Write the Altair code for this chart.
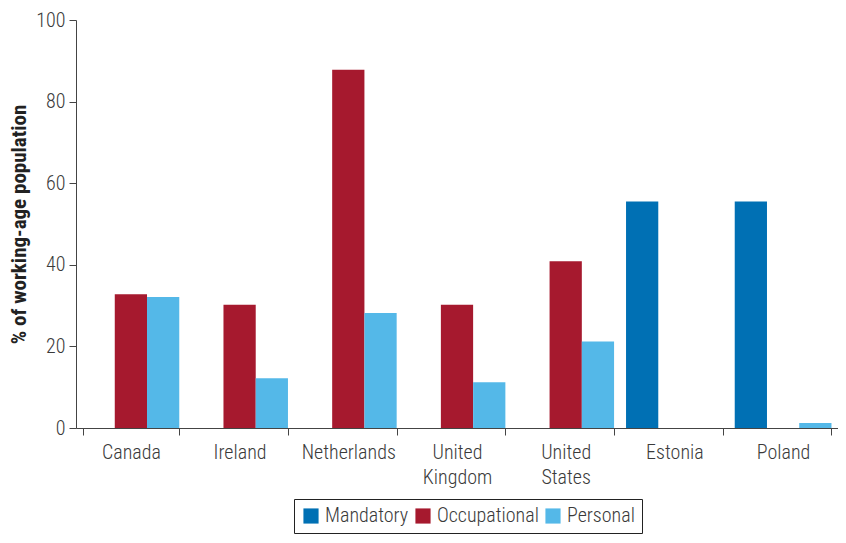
import altair as alt
import pandas as pd

countries = ["Canada", "Ireland", "Netherlands", "United Kingdom", "United States", "Estonia", "Poland"]
series = ["Mandatory", "Occupational", "Personal"]
mandatory = [None, None, None, None, None, 55.5, 55.5]
occupational = [32.8, 30.2, 87.8, 30.2, 40.9, None, None]
personal = [32.1, 12.2, 28.2, 11.2, 21.2, None, 1.2]
colors = ["#0070b4", "#a6192e", "#54b8e8"]

rows = []
for i, c in enumerate(countries):
    for s, vals in zip(series, [mandatory, occupational, personal]):
        if vals[i] is not None:
            rows.append({"country": c, "type": s, "value": vals[i]})
df = pd.DataFrame(rows)

FONT = "Roboto Condensed, Liberation Sans Narrow, DejaVu Sans Condensed, sans-serif"
TXT = "#3a3a3a"

chart = alt.Chart(df).mark_bar().encode(
    x=alt.X("country:N", sort=countries, title=None,
            scale=alt.Scale(paddingInner=0.11, paddingOuter=0.06),
            axis=alt.Axis(labelAngle=0, tickBand="extent", labelExpr="split(datum.label, ' ')",
                          labelFontSize=20, labelColor=TXT, labelFont=FONT, labelFontWeight=300,
                          domainColor="#444", tickColor="#444", tickSize=7, labelPadding=7,
                          labelLineHeight=25)),
    xOffset=alt.XOffset("type:N", sort=series, scale=alt.Scale(domain=series)),
    y=alt.Y("value:Q", title="% of working-age population",
            scale=alt.Scale(domain=[0, 100]),
            axis=alt.Axis(values=[0, 20, 40, 60, 80, 100], grid=False,
                          labelFontSize=20, labelColor=TXT, labelFont=FONT, labelFontWeight=300,
                          titleFont=FONT, titleFontSize=21, titleFontWeight="bold",
                          titleColor="#222", titlePadding=6,
                          domainColor="#444", tickColor="#444", tickSize=7, labelPadding=4)),
    color=alt.Color("type:N", sort=series,
                    scale=alt.Scale(domain=series, range=colors),
                    legend=alt.Legend(title=None, orient="none", direction="horizontal",
                                      legendX=218, legendY=479,
                                      symbolType="square", symbolSize=230, symbolStrokeWidth=0,
                                      labelFontSize=20, labelFont=FONT, labelColor=TXT,
                                      labelFontWeight=300,
                                      strokeColor="#222", padding=7, columnPadding=4,
                                      labelOffset=4, symbolOpacity=1)),
).properties(
    width=762, height=408,
    autosize=alt.AutoSizeParams(type="none"),
    padding={"left": 68, "top": 12, "right": 0, "bottom": 107},
).configure_view(stroke=None)

chart.save("out.html", embed_options={"renderer": "svg", "actions": False})
